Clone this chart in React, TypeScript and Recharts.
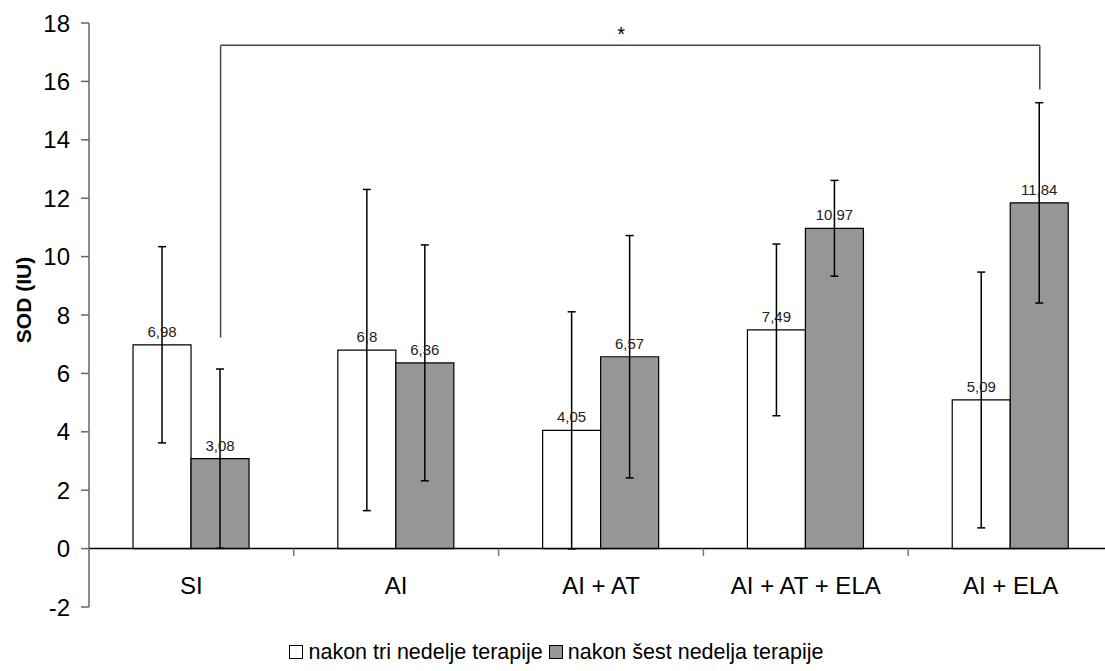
import React from 'react';
import { BarChart, Bar, XAxis, YAxis, ErrorBar, LabelList, ReferenceLine, Legend } from 'recharts';

const categories = ['SI', 'AI', 'AI + AT', 'AI + AT + ELA', 'AI + ELA'];
const threeWeeks = [6.98, 6.8, 4.05, 7.49, 5.09];
const threeWeeksErr = [3.36, 5.5, 4.06, 2.94, 4.38];
const sixWeeks = [3.08, 6.36, 6.57, 10.97, 11.84];
const sixWeeksErr = [3.07, 4.04, 4.15, 1.64, 3.43];
const yTicks = [-2, 0, 2, 4, 6, 8, 10, 12, 14, 16, 18];
const seriesNames = ['nakon tri nedelje terapije', 'nakon šest nedelja terapije'];

// significance bracket between SI (six weeks) and AI + ELA (six weeks)
const bracketTop = 17.24;
const bracketLeftBottom = 7.23;
const bracketRightBottom = 15.72;
const bracketFrom = 'SI';
const bracketTo = 'AI + ELA';

const CAT_GAP = 0.215;
const CHART_W = 1125;
const CHART_H = 671;
const MARGIN = { top: 23, right: 12, left: 0, bottom: 0 };
const YAXIS_W = 89;
const PLOT_W = CHART_W - MARGIN.right - MARGIN.left - YAXIS_W;
const BAND = PLOT_W / categories.length;
// offset of the second (gray) bar centre from the category centre, as band fraction
const GRAY_OFF = CAT_GAP + (1 - 2 * CAT_GAP) * 0.75 - 0.5;

const data = categories.map((c, i) => ({
  name: c,
  a: threeWeeks[i],
  aErr: threeWeeksErr[i],
  b: sixWeeks[i],
  bErr: sixWeeksErr[i],
}));

const FONT = '"Liberation Sans", Arial, sans-serif';
const fmt = (v: any) => String(v).replace('.', ',');

const shifted = (dx: number, stroke: string) => (p: any) => (
  <line x1={p.x1 + dx} y1={p.y1} x2={p.x2 + dx} y2={p.y2} stroke={stroke} strokeWidth={1.5} />
);

const CatTick = (props: any) => {
  const { x, y, payload } = props;
  return (
    <text x={x} y={y - 22} textAnchor="middle" dominantBaseline="central" fontSize={24} fontFamily={FONT} fill="#000">
      {payload.value}
    </text>
  );
};

const LegendContent = () => (
  <div style={{ height: 36, paddingTop: 5, boxSizing: 'border-box', display: 'flex', justifyContent: 'center', alignItems: 'flex-start', fontFamily: FONT, fontSize: 21.5, lineHeight: '24px', color: '#000' }}>
    {seriesNames.map((n, i) => (
      <span key={n} style={{ display: 'inline-flex', alignItems: 'center', marginRight: i === 0 ? 6 : 0 }}>
        <span style={{ display: 'inline-block', width: 14, height: 14, boxSizing: 'border-box', border: '1px solid #000', background: i === 0 ? '#ffffff' : '#969696', marginRight: 5 }} />
        {n}
      </span>
    ))}
  </div>
);

export default function App() {
  const grayDx = BAND * GRAY_OFF;
  return (
    <div style={{ position: 'absolute', left: 0, top: 0, width: 1105, height: 671, overflow: 'hidden', background: '#fff' }}>
      <BarChart
        width={CHART_W}
        height={CHART_H}
        data={data}
        margin={MARGIN}
        barCategoryGap={`${CAT_GAP * 100}%`}
        barGap={0}
      >
        <XAxis dataKey="name" axisLine={false} tickLine={false} tickSize={0} tickMargin={0} height={28} tick={<CatTick />} interval={0} />
        <YAxis
          domain={[-2, 18]}
          ticks={yTicks}
          interval={0}
          width={YAXIS_W}
          allowDataOverflow
          axisLine={{ stroke: '#666', strokeWidth: 1.5 }}
          tickLine={{ stroke: '#666', strokeWidth: 1.5 }}
          tickSize={8}
          tickMargin={11}
          tick={{ fontSize: 24, fontFamily: FONT, fill: '#000' }}
          label={{
            content: (p: any) => {
              const vb = p.viewBox;
              const cx = vb.x + 23;
              const cy = vb.y + vb.height / 2 - 15;
              return (
                <text x={cx} y={cy} transform={`rotate(-90 ${cx} ${cy})`} textAnchor="middle" dominantBaseline="central" fontSize={21} fontWeight="bold" fontFamily={FONT} fill="#000">
                  SOD (IU)
                </text>
              );
            },
          }}
        />
        <Legend verticalAlign="bottom" content={<LegendContent />} />
        <Bar dataKey="a" name={seriesNames[0]} fill="#ffffff" stroke="#000" strokeWidth={1.2} isAnimationActive={false}>
          <LabelList dataKey="a" position="top" offset={8} formatter={fmt} style={{ fontSize: 15, fontFamily: FONT, fill: '#222' }} />
          <ErrorBar dataKey="aErr" width={4} stroke="#000" strokeWidth={1.5} />
        </Bar>
        <Bar dataKey="b" name={seriesNames[1]} fill="#969696" stroke="#000" strokeWidth={1.2} isAnimationActive={false}>
          <LabelList dataKey="b" position="top" offset={8} formatter={fmt} style={{ fontSize: 15, fontFamily: FONT, fill: '#222' }} />
          <ErrorBar dataKey="bErr" width={4} stroke="#000" strokeWidth={1.5} />
        </Bar>
        <ReferenceLine y={0} stroke="#000" strokeWidth={1.5} />
        {categories.map((c) => (
          <ReferenceLine key={c} segment={[{ x: c, y: 0 }, { x: c, y: -0.25 }]} shape={shifted(BAND / 2, '#777')} ifOverflow="visible" />
        ))}
        <ReferenceLine segment={[{ x: bracketFrom, y: bracketLeftBottom }, { x: bracketFrom, y: bracketTop }]} shape={shifted(grayDx, '#444')} />
        <ReferenceLine segment={[{ x: bracketTo, y: bracketRightBottom }, { x: bracketTo, y: bracketTop }]} shape={shifted(grayDx, '#444')} />
        <ReferenceLine
          segment={[{ x: bracketFrom, y: bracketTop }, { x: bracketTo, y: bracketTop }]}
          shape={shifted(grayDx, '#444')}
          label={{ value: '*', position: 'top', offset: 4, dx: grayDx - 9, fontSize: 20, fontFamily: FONT, fill: '#000' }}
        />
      </BarChart>
    </div>
  );
}
